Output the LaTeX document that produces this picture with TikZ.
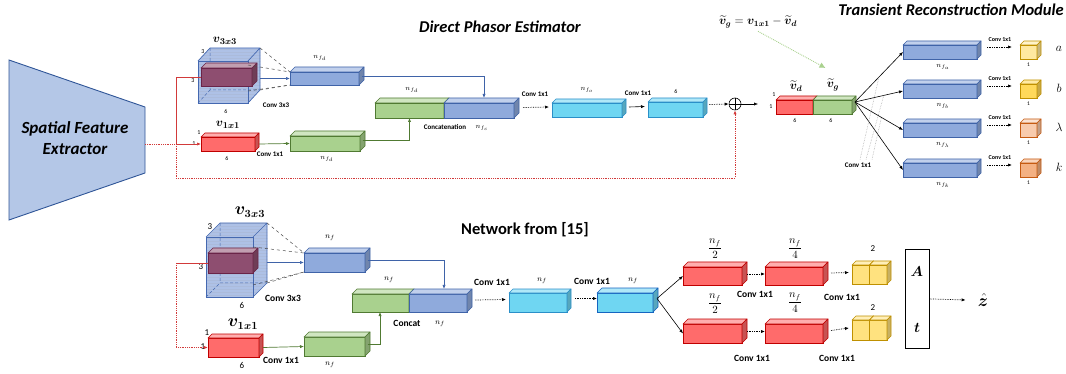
\documentclass[tikz,border=0pt]{standalone}
\usepackage{fontspec}
\setmainfont{Carlito}
\usepackage{amsmath,bm}
\usetikzlibrary{arrows.meta,calc,patterns}

\definecolor{blueF}{HTML}{8FAADC}
\definecolor{blueD}{HTML}{3F63A8}
\definecolor{greenF}{HTML}{A9D18E}
\definecolor{greenD}{HTML}{507A32}
\definecolor{redF}{HTML}{FF6B6B}
\definecolor{redD}{HTML}{C00000}
\definecolor{cyanF}{HTML}{6FD6F2}
\definecolor{cyanD}{HTML}{2A8FC8}
\definecolor{cyanE}{HTML}{1565C0}
\definecolor{maroonF}{HTML}{8E4E70}
\definecolor{maroonD}{HTML}{6A2448}
\definecolor{glassF}{HTML}{9AB2E0}
\definecolor{glassD}{HTML}{4468B0}
\definecolor{sfeF}{HTML}{B4C7E7}
\definecolor{sfeD}{HTML}{2F5597}
\definecolor{yelA}{HTML}{FFE9A0}
\definecolor{yelB}{HTML}{FFD95A}
\definecolor{yelD}{HTML}{BF9000}
\definecolor{orA}{HTML}{F8CBAD}
\definecolor{orB}{HTML}{F4B183}
\definecolor{orD}{HTML}{C55A11}
\definecolor{yelC}{HTML}{FFE27F}
\definecolor{lineRed}{HTML}{D23A3A}
\definecolor{lineGreen}{HTML}{A9D18E}

% 3-D block: [depth]{name}{left}{top}{width}{height}{fill}{line}
\newcommand{\blk}[8][5]{%
  \node[blkface,fill=#7,draw=#8,minimum width=#5pt,minimum height=#6pt,anchor=north west] (#2) at (#3,#4) {};
  \filldraw[fill=#7!55!white,draw=#8,line width=0.6pt,line join=round]
    (#2.north west) -- ++(#1,-#1) -- ($(#2.north east)+(#1,-#1)$) -- (#2.north east) -- cycle;
  \filldraw[fill=#7!78!black,draw=#8,line width=0.6pt,line join=round]
    (#2.north east) -- ++(#1,-#1) -- ($(#2.south east)+(#1,-#1)$) -- (#2.south east) -- cycle;
}

% translucent kernel cube: {name}{left}{top}{width}{height}{dx}{dy}
\newcommand{\glass}[7]{%
  \fill[glassF,opacity=0.8] (#2,#3) -- ++(#6,-#7) -- ++(#4,0) -- ++(0,#5) -- ++(-#6,#7) -- ++(-#4,0) -- cycle;
  \fill[pattern=horizontal lines,pattern color=glassD!45] (#2,#3) -- ++(#6,-#7) -- ++(#4,0) -- ++(0,#5) -- ++(-#6,#7) -- ++(-#4,0) -- cycle;
  \draw[glassD,line width=0.5pt,densely dashed]
    (#2+#6,#3-#7) -- ++(0,#5) -- ++(#4,0)
    (#2,#3+#5) -- ++(#6,-#7);
  \draw[glassD,line width=0.7pt]
    (#2,#3) -- ++(#6,-#7) -- ++(#4,0) -- ++(0,#5) -- ++(-#6,#7)
    (#2+#4,#3) -- ++(#6,-#7);
  \node[inner sep=0pt,outer sep=0pt,minimum width=#4pt,minimum height=#5pt,anchor=north west,
        draw=glassD,line width=0.7pt] (#1) at (#2,#3) {};
}

\begin{document}
\begin{tikzpicture}[x=1pt,y=-1pt,
  blkface/.style={rectangle,inner sep=0pt,outer sep=0pt,line width=0.6pt},
  title/.style={font=\fontsize{16.5}{18}\selectfont\bfseries\itshape,inner sep=0pt},
  lbl/.style={font=\fontsize{7}{8}\selectfont\bfseries,inner sep=0pt},
  lblb/.style={font=\fontsize{9.5}{10}\selectfont\bfseries,inner sep=0pt},
  num/.style={font=\fontsize{6}{7}\selectfont,inner sep=0pt},
  numb/.style={font=\fontsize{9}{10}\selectfont,inner sep=0pt},
  mth/.style={font=\fontsize{7.5}{8}\selectfont,inner sep=0pt},
  mthb/.style={font=\fontsize{8.5}{9}\selectfont,inner sep=0pt},
  frc/.style={font=\fontsize{10.5}{11}\selectfont,inner sep=0pt},
  redln/.style={lineRed,line width=0.8pt,densely dotted},
  redsolid/.style={lineRed,line width=0.7pt},
  blueln/.style={blueD,line width=0.7pt},
  greenln/.style={greenD,line width=0.7pt},
  tip/.style={-{Latex[length=4pt,width=3.2pt]}},
  dotarrow/.style={black,line width=0.7pt,densely dotted,tip},
  solidarrow/.style={black,line width=0.6pt,tip},
  rf/.style={black!70,line width=0.5pt,dashed},
]
\useasboundingbox (0,0) rectangle (1066,374);

% ---------- spatial feature extractor ----------
\filldraw[fill=sfeF,draw=sfeD,line width=0.9pt] (9,60) -- (145,107) -- (145,173) -- (9,220) -- cycle;
\node[title,align=center,font=\fontsize{17}{21}\selectfont\bfseries\itshape] (sfe) at (75,138) {Spatial Feature\\Extractor};
\coordinate (sfeout) at (145,144);
\coordinate (rj) at (176,144);
\coordinate (rb) at (176,178);

% ---------- direct phasor estimator ----------
\node[title] (dpe) at (500,27) {Direct Phasor Estimator};
\node[title,anchor=east] (trm) at (1064,10) {Transient Reconstruction Module};

\glass{cA}{198}{61}{50}{42}{12}{13}
\blk[5]{pA}{201}{68}{51}{18}{maroonF}{maroonD}
\node[font=\fontsize{13}{14}\selectfont,inner sep=0pt] (lv3a) at (225,41) {$\bm{v}_{\bm{3x3}}$};
\node[num] (n3a) at (203,52) {3};
\node[num] (n3b) at (193,81) {3};
\node[num] (n6a) at (226,111) {6};
\node[lbl] (cv3a) at (276,105) {Conv 3x3};

\blk[5]{b1}{290}{72}{69}{13}{blueF}{blueD}
\node[mth] (lb1) at (320,58) {$n_{f_d}$};

\blk[4]{v1}{201}{137}{54}{14}{redF}{redD}
\node[font=\fontsize{13}{14}\selectfont,inner sep=0pt] (lv1a) at (228,125) {$\bm{v}_{\bm{1x1}}$};
\node[num] (n1a) at (199,133) {1};
\node[num] (n1b) at (194,144) {1};
\node[num] (n6b) at (227,158) {6};
\node[lbl] (cv1a) at (270,154) {Conv 1x1};

\blk[5]{g1}{290}{136}{70}{15}{greenF}{greenD}
\node[mth] (lg1) at (327,159) {$n_{f_d}$};

\blk[5]{cG}{375}{103}{69}{15}{greenF}{greenD}
\blk[5]{cB}{444}{103}{70}{15}{blueF}{blueD}
\node[mth] (lcg) at (412,90) {$n_{f_d}$};
\node[lbl] (lcat) at (445,127) {Concatenation};
\node[mth] (lcb) at (482,128) {$n_{f_c}$};

\blk[4]{c1}{552}{103}{70}{14}{cyanF}{cyanD}
\node[mth] (lc1) at (587,90) {$n_{f_o}$};
\node[lbl] (cv1b) at (535,94) {Conv 1x1};

\blk[4]{c2}{648}{102}{55}{15}{cyanF}{cyanD}
\node[num] (n6c) at (676,91) {6};
\node[lbl] (cv1c) at (638,93) {Conv 1x1};

\node[circle,draw,line width=0.6pt,minimum size=12pt,inner sep=0pt] (sum) at (735,104) {};
\draw[line width=0.6pt] (sum.north) -- (sum.south) (sum.west) -- (sum.east);

% kernel receptive field
\draw[rf] ($(cA.north east)+(12,-13)$) -- (b1.north west);
\draw[rf] ($(cA.north east)+(0,4)$) -- (b1.north west);
\draw[rf] ($(cA.south east)+(0,-12)$) -- (b1.south west);
\draw[rf] ($(cA.south east)+(12,-13)$) -- (b1.south west);

% connectors
\draw[redln] (sfeout) -- (rj);
\draw[redsolid] (rj) |- (pA.west);
\draw[redsolid,tip] (rj) -- (v1.west);
\draw[redln,tip] (rj) -- (rb) -| (sum.south);
\draw[blueln,tip] ($(b1.west -| cA.east)+(12,0)$) -- (b1.west);
\draw[greenln,tip] (v1.east) ++(4,0) -- (g1.west);
\draw[blueln,tip] ($(b1.east)+(2.5,-2.5)$) -| ($(cB.north)+(5,-5)$);
\draw[greenln,tip] ($(g1.east)+(2.5,-3.5)$) -| (cG.south);
\draw[dotarrow] ($(cB.east)+(9,-3)$) -- ($(c1.west)+(-3,-3)$);
\draw[solidarrow] ($(c1.east)+(7,-3)$) -- ($(c2.west)+(-3,-3)$);
\draw[dotarrow] ($(c2.east)+(6,-5)$) -- (sum.west);

% ---------- fusion of the two phasors ----------
\blk[4]{oR}{776}{100}{37}{14}{redF}{redD}
\blk[4]{oG}{813}{100}{39}{14}{greenF}{greenD}
\draw[solidarrow] (sum.east) -- ($(oR.west)+(-18,-3)$);
\node[font=\fontsize{12}{13}\selectfont,inner sep=0pt] (lvd) at (796,86) {$\widetilde{\bm v}_{\bm d}$};
\node[font=\fontsize{12}{13}\selectfont,inner sep=0pt] (lvg) at (833,85) {$\widetilde{\bm v}_{\bm g}$};
\node[num] (n1c) at (774,95) {1};
\node[num] (n1d) at (771,107) {1};
\node[num] (n6d) at (795,120) {6};
\node[num] (n6e) at (831,120) {6};
\node[font=\fontsize{12}{14}\selectfont,inner sep=0pt] (eq) at (758,22)
  {$\widetilde{\bm v}_{\bm g} = \bm v_{\bm{1x1}} - \widetilde{\bm v}_{\bm d}$};
\coordinate (eqtip) at ($(oG.north)+(-7,-32)$);
\draw[lineGreen,line width=0.9pt,densely dotted,-{Latex[length=6pt,width=6pt]}] ($(eq.south)+(0,3)$) -- (eqtip);

% ---------- transient reconstruction module ----------
\coordinate (fan) at ($(oG.east)+(3,-5)$);
\foreach \i/\y/\c/\f/\s/\lab in {1/45/yelA/yelD/a/a, 2/84/yelB/yelD/b/b, 3/123/orA/orD/\lambda/\lambda, 4/163/orB/orD/k/k}{
  \blk[4]{t\i}{903}{\y}{74}{14}{blueF}{blueD}
  \blk[4]{q\i}{1020}{\y}{17}{14}{\c}{\f}
  \draw[solidarrow] (fan) -- (t\i.west);
  \draw[dotarrow] ($(t\i.east)+(10,-5)$) -- ($(q\i.west)+(-8,-5)$);
  \node[lbl,font=\fontsize{6}{7}\selectfont\bfseries] (cvt\i) at ($(t\i.east)+(23,-12)$) {Conv 1x1};
  \node[mth,font=\fontsize{7}{8}\selectfont] (lt\i) at ($(t\i.south)+(3,8)$) {$n_{f_{\s}}$};
  \node[num,font=\fontsize{5.5}{6}\selectfont] (lq\i) at ($(q\i.south)+(0,6)$) {1};
  \node[font=\fontsize{13}{14}\selectfont,inner sep=0pt] (out\i) at ($(q\i.east)+(22,-3)$) {$\lab$};
}
\node[lbl] (cvfan) at (858,165) {Conv 1x1};
\path (fan) -- (t1.west) coordinate[pos=0.5] (m1);
\path (fan) -- (t2.west) coordinate[pos=0.6] (m2);
\path (fan) -- (t3.west) coordinate[pos=0.55] (m3);
\draw[black!30,line width=0.6pt,densely dotted] ($(cvfan.north)+(2,-3)$) -- (m1)
  ($(cvfan.north)+(8,-3)$) -- (m2) ($(cvfan.north)+(14,-3)$) -- (m3);

% ---------- network from [15] ----------
\node[font=\fontsize{16.5}{18}\selectfont\bfseries,inner sep=0pt] (nf15) at (525,230) {Network from [15]};

\glass{cC}{206}{237}{47}{60}{14}{14}
\blk[5]{pB}{208}{253}{45}{20}{maroonF}{maroonD}
\node[font=\fontsize{16}{17}\selectfont,inner sep=0pt] (lv3b) at (250,212) {$\bm{v}_{\bm{3x3}}$};
\node[numb] (m3a) at (210,227) {3};
\node[numb] (m3b) at (201,267) {3};
\node[numb] (m6a) at (242,305) {6};
\node[lblb] (cv3b) at (283,298) {Conv 3x3};

\blk[5]{b2}{304}{253}{61}{19}{blueF}{blueD}
\node[mthb] (lb2) at (330,238) {$n_f$};

\blk[4]{v2}{208}{338}{51}{19}{redF}{redD}
\node[font=\fontsize{16}{17}\selectfont,inner sep=0pt] (lv1b) at (243,324) {$\bm{v}_{\bm{1x1}}$};
\node[numb] (m1a) at (207,333) {1};
\node[numb] (m1b) at (203,347) {1};
\node[numb] (m6b) at (242,365) {6};
\node[lblb] (cv1d) at (281,360) {Conv 1x1};

\blk[5]{g2}{304}{337}{61}{19}{greenF}{greenD}
\node[mthb] (lg2) at (330,365) {$n_f$};

\blk[5]{dG}{352}{294}{57}{18}{greenF}{greenD}
\blk[5]{dB}{409}{294}{58}{18}{blueF}{blueD}
\node[mthb] (ldg) at (389,280) {$n_f$};
\node[lblb] (lcat2) at (407,323) {Concat};
\node[mthb] (ldb) at (440,324) {$n_f$};

\blk[4]{c3}{509}{293}{58}{19}{cyanF}{cyanD}
\node[mthb] (lc3) at (542,281) {$n_f$};
\node[lblb] (cv1e) at (492,282) {Conv 1x1};
\blk[5]{c4}{597}{293}{56}{19}{cyanF}{cyanE}
\node[mthb] (lc4) at (633,281) {$n_f$};
\node[lblb] (cv1f) at (592,281) {Conv 1x1};

\draw[rf] ($(cC.north east)+(14,-14)$) -- (b2.north west);
\draw[rf] ($(cC.north east)+(0,10)$) -- (b2.north west);
\draw[rf] ($(cC.south east)+(0,-12)$) -- (b2.south west);
\draw[rf] ($(cC.south east)+(14,-14)$) -- (b2.south west);

\coordinate (rk) at (176,263);
\coordinate (rk2) at (176,347.5);
\draw[redsolid] (rk) -- (pB.west);
\draw[redln,tip] (rk) -- (rk2) -- (v2.west);
\draw[blueln,tip] ($(b2.west -| cC.east)+(14,0)$) -- (b2.west);
\draw[greenln,tip] (v2.east) ++(4,0) -- (g2.west);
\draw[blueln,tip] ($(b2.east)+(2.5,-2.5)$) -| ($(dB.north)+(6,-5)$);
\draw[greenln,tip] ($(g2.east)+(2.5,-2.5)$) -| ($(dG.south)+(-0.5,0)$);
\draw[dotarrow] ($(dB.east)+(8,-3)$) -- ($(c3.west)+(-3,-3)$);
\draw[dotarrow] ($(c3.east)+(8,-4)$) -- ($(c4.west)+(0,-4)$);

% two heads
\blk[5]{r1}{683}{267}{59}{18}{redF}{redD}
\blk[5]{r2}{765}{267}{58}{18}{redF}{redD}
\blk[5]{r3}{683}{324}{59}{19}{redF}{redD}
\blk[5]{r4}{765}{324}{58}{19}{redF}{redD}
\blk[4]{y1}{852}{265}{17.5}{19}{yelC}{yelD}
\blk[4]{y2}{869.5}{265}{17.5}{19}{yelC}{yelD}
\blk[4]{y3}{852}{320}{17.5}{20}{yelC}{yelD}
\blk[4]{y4}{869.5}{320}{17.5}{20}{yelC}{yelD}

\coordinate (fan2) at ($(c4.east)+(4,-4)$);
\draw[solidarrow] (fan2) -- (r1.west);
\draw[solidarrow] (fan2) -- (r3.west);
\draw[dotarrow] ($(r1.east)+(5,-2)$) -- ($(r2.west)+(0,-2)$);
\draw[dotarrow] ($(r3.east)+(5,-2)$) -- ($(r4.west)+(0,-2)$);
\draw[dotarrow] ($(r2.east)+(8,-3)$) -- ($(y1.west)+(-3,-2)$);
\draw[dotarrow] ($(r4.east)+(8,-3)$) -- ($(y3.west)+(-3,-2)$);

\node[frc] (lr1) at (715,249) {$\dfrac{n_f}{2}$};
\node[frc] (lr2) at (795,249) {$\dfrac{n_f}{4}$};
\node[frc] (lr3) at (715,304) {$\dfrac{n_f}{2}$};
\node[frc] (lr4) at (795,303) {$\dfrac{n_f}{4}$};
\node[lblb] (cv1g) at (755,294) {Conv 1x1};
\node[lblb] (cv1h) at (842,297) {Conv 1x1};
\node[lblb] (cv1i) at (752,358) {Conv 1x1};
\node[lblb] (cv1j) at (837,358) {Conv 1x1};
\node[numb] (l2a) at (873,249) {2};
\node[numb] (l2b) at (873,308) {2};

\node[draw,line width=0.8pt,inner sep=0pt,minimum width=24pt,minimum height=99pt,anchor=north west] (at) at (905,249) {};
\node[font=\fontsize{15}{16}\selectfont,inner sep=0pt] (lA) at (917,272) {$\bm A$};
\node[font=\fontsize{15}{16}\selectfont,inner sep=0pt] (lt) at (917,328) {$\bm t$};
\node[font=\fontsize{17}{18}\selectfont,inner sep=0pt] (zhat) at (983,300) {$\hat{\bm z}$};
\draw[dotarrow] (at.east) -- ($(zhat.west)+(-12,0)$);
\end{tikzpicture}
\end{document}
